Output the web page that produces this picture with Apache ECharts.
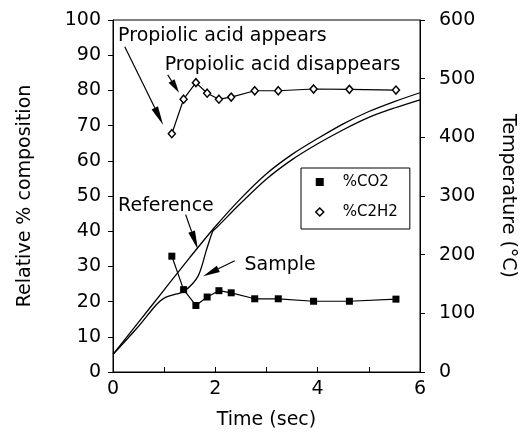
<!DOCTYPE html>
<html><head><meta charset="utf-8">
<script src="https://cdn.jsdelivr.net/npm/echarts@6/dist/echarts.min.js"></script>
<style>html,body{margin:0;background:#fff}#c{width:525px;height:436px}</style>
</head><body><div id="c"></div>
<script>
// ---- data ----
const sampleTimes = [1.15, 1.38, 1.62, 1.84, 2.07, 2.31, 2.77, 3.23, 3.92, 4.62, 5.53];
const co2Values   = [32.9, 23.4, 18.9, 21.3, 23.1, 22.5, 20.8, 20.8, 20.1, 20.1, 20.7];
const c2h2Values  = [67.7, 77.5, 82.2, 79.2, 77.5, 78.1, 79.9, 79.9, 80.4, 80.3, 80.1];

const refTimes = [0, 0.5, 1.0, 1.5, 2.0, 2.5, 3.0, 3.5, 4.0, 4.5, 5.0, 5.5, 6.0];
const refTemps = [30, 85, 140, 195, 248, 296, 338, 371, 398, 423, 444, 461, 476];

const smpTimes = [0, 0.5, 0.85, 1.0, 1.24, 1.4, 1.66, 1.83, 1.95, 2.0, 2.5, 3.0, 3.5, 4.0, 4.5, 5.0, 5.5, 6.0];
const smpTemps = [30, 78, 115, 126, 133, 138, 163, 209, 240, 244, 288, 329, 362, 389, 413, 434, 450, 464];

const xLabelTicks = [0, 2, 4, 6];

// annotations in data units (time, % composition)
const noteTexts = [
  {text: 'Propiolic acid appears', t: 0.10, v: 95.5},
  {text: 'Propiolic acid disappears', t: 1.01, v: 87.2},
  {text: 'Reference', t: 0.10, v: 47.2},
  {text: 'Sample', t: 2.57, v: 30.5}
];
const noteArrows = [
  {from: [0.23, 92.4], to: [0.98, 70.2], head: 19},
  {from: [1.07, 84.4], to: [1.29, 79.3], head: 14},
  {from: [1.42, 44.7], to: [1.66, 34.8], head: 19},
  {from: [2.38, 31.6], to: [1.76, 27.2], head: 17}
];

const FONT = 'DejaVu Sans';
const FS = 19;

const pair = (xs, ys) => xs.map((x, i) => [x, ys[i]]);

const chart = echarts.init(document.getElementById('c'));
chart.setOption({
  animation: false,
  backgroundColor: '#fff',
  textStyle: {fontFamily: FONT, color: '#000'},
  grid: {left: 113, right: 104, top: 20, bottom: 64, show: true, borderColor: '#000', borderWidth: 1, backgroundColor: 'transparent'},
  legend: {
    orient: 'vertical', left: 301, top: 168,
    padding: [6, 12, 9, 14], itemGap: 14,
    itemWidth: 8, itemHeight: 8,
    borderColor: '#000', borderWidth: 1,
    textStyle: {fontFamily: FONT, fontSize: 15, color: '#000', padding: [0, 0, 0, 14], lineHeight: 16},
    data: [
      {name: '%CO2', icon: 'rect', itemStyle: {color: '#000', borderWidth: 0}},
      {name: '%C2H2', icon: 'diamond', itemStyle: {color: '#fff', borderColor: '#000', borderWidth: 1.5}}
    ]
  },
  xAxis: {
    type: 'value', min: 0, max: 6, interval: 1,
    name: 'Time (sec)', nameLocation: 'middle', nameGap: 39,
    nameTextStyle: {fontFamily: FONT, fontSize: FS, color: '#000'},
    axisLine: {lineStyle: {color: '#000', width: 1}},
    axisTick: {inside: true, length: 5, lineStyle: {color: '#000'}},
    axisLabel: {fontFamily: FONT, fontSize: FS, color: '#000', margin: 8,
      formatter: v => xLabelTicks.includes(v) ? String(v) : ''},
    splitLine: {show: false}
  },
  yAxis: [{
    type: 'value', min: 0, max: 100, interval: 10, position: 'left',
    name: 'Relative % composition', nameLocation: 'middle', nameGap: 78, nameRotate: 90,
    nameTextStyle: {fontFamily: FONT, fontSize: FS, color: '#000'},
    axisLine: {show: true, lineStyle: {color: '#000', width: 1}},
    axisTick: {show: true, inside: false, length: 5, lineStyle: {color: '#000'}},
    axisLabel: {fontFamily: FONT, fontSize: FS, color: '#000', margin: 12},
    splitLine: {show: false}
  }, {
    type: 'value', min: 0, max: 600, interval: 100, position: 'right',
    name: 'Temperature (°C)', nameLocation: 'middle', nameGap: 78, nameRotate: -90,
    nameTextStyle: {fontFamily: FONT, fontSize: FS, color: '#000'},
    axisLine: {show: true, lineStyle: {color: '#000', width: 1}},
    axisTick: {show: true, inside: false, length: 5, lineStyle: {color: '#000'}},
    axisLabel: {fontFamily: FONT, fontSize: FS, color: '#000', margin: 19},
    splitLine: {show: false}
  }],
  series: [
    {name: 'Reference', type: 'line', yAxisIndex: 1, data: pair(refTimes, refTemps),
     smooth: 0.3, showSymbol: false, symbol: 'none', lineStyle: {color: '#000', width: 1.3}, z: 2},
    {name: 'Sample', type: 'line', yAxisIndex: 1, data: pair(smpTimes, smpTemps),
     smooth: 0.3, showSymbol: false, symbol: 'none', lineStyle: {color: '#000', width: 1.3}, z: 2},
    {name: '%CO2', type: 'line', yAxisIndex: 0, data: pair(sampleTimes, co2Values),
     symbol: 'rect', symbolSize: 7, itemStyle: {color: '#000'},
     lineStyle: {color: '#000', width: 1.2}, z: 3},
    {name: '%C2H2', type: 'line', yAxisIndex: 0, data: pair(sampleTimes, c2h2Values),
     symbol: 'diamond', symbolSize: [7, 8], itemStyle: {color: '#fff', borderColor: '#000', borderWidth: 1.5},
     lineStyle: {color: '#000', width: 1.2}, z: 3}
  ]
});

// annotation graphics positioned through the axes
const px = p => chart.convertToPixel({xAxisIndex: 0, yAxisIndex: 0}, p);
const g = [];
noteTexts.forEach(n => {
  const [x, y] = px([n.t, n.v]);
  g.push({type: 'text', x: x, y: y, style: {text: n.text, font: FS + 'px "' + FONT + '"', fill: '#000', verticalAlign: 'middle', align: 'left'}});
});
noteArrows.forEach(a => {
  const [x1, y1] = px(a.from);
  const [x2, y2] = px(a.to);
  const dx = x2 - x1, dy = y2 - y1, L = Math.hypot(dx, dy);
  const ux = dx / L, uy = dy / L;
  const bx = x2 - ux * a.head, by = y2 - uy * a.head;
  const w = 3.5;
  g.push({type: 'line', shape: {x1: x1, y1: y1, x2: bx, y2: by}, style: {stroke: '#000', lineWidth: 1.2}});
  g.push({type: 'polygon', shape: {points: [[x2, y2], [bx - uy * w, by + ux * w], [bx + uy * w, by - ux * w]]}, style: {fill: '#000'}});
});
chart.setOption({graphic: g});
</script>
</body></html>
